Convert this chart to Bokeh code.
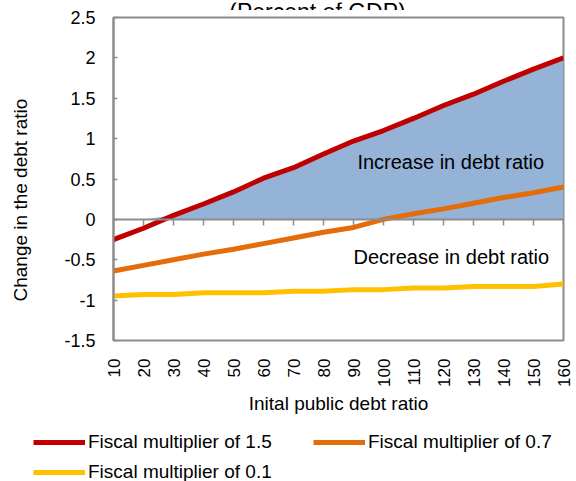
from math import pi
from bokeh.plotting import figure
from bokeh.layouts import column
from bokeh.models import (Label, Legend, LegendItem, FixedTicker, Span, ColumnDataSource, Range1d)
from bokeh.embed import file_html
from bokeh.resources import INLINE

# ---- data ----
debt_ratio = [10, 20, 30, 40, 50, 60, 70, 80, 90, 100, 110, 120, 130, 140, 150, 160]
mult_15 = [-0.25, -0.11, 0.05, 0.19, 0.34, 0.51, 0.64, 0.81, 0.97, 1.10, 1.25, 1.41, 1.55, 1.71, 1.86, 2.00]
mult_07 = [-0.64, -0.57, -0.50, -0.43, -0.37, -0.30, -0.23, -0.16, -0.10, 0.00, 0.07, 0.13, 0.20, 0.27, 0.33, 0.40]
mult_01 = [-0.95, -0.93, -0.93, -0.91, -0.91, -0.91, -0.89, -0.89, -0.87, -0.87, -0.85, -0.85, -0.83, -0.83, -0.83, -0.80]
y_ticks = [-1.5, -1.0, -0.5, 0.0, 0.5, 1.0, 1.5, 2.0, 2.5]
y_tick_labels = ["-1.5", "-1", "-0.5", "0", "0.5", "1", "1.5", "2", "2.5"]
series_names = ["Fiscal multiplier of 1.5", "Fiscal multiplier of 0.7", "Fiscal multiplier of 0.1"]
series_colors = ["#C00000", "#E46C0A", "#FFC000"]
series_values = [mult_15, mult_07, mult_01]

FONT = "Liberation Sans"
GRAY = "#8c8c8c"


def no_frame_align(fig):
    try:
        fig.frame_align = False
        return True
    except AttributeError:
        return False


# ---- top strip: subtitle, cut at the top edge as in the reference ----
t = figure(width=576, height=10, output_backend="svg", toolbar_location=None,
           x_axis_location=None, y_axis_location=None,
           x_range=Range1d(0, 576), y_range=Range1d(0, 10),
           min_border_left=0, min_border_right=0, min_border_top=0, min_border_bottom=0)
t.outline_line_color = None
t.grid.visible = False
t.border_fill_color = "white"
no_frame_align(t)
t.add_layout(Label(x=317, y=1, text="(Percent of GDP)", text_align="center",
                   text_baseline="alphabetic", text_font=FONT, text_font_size="23px",
                   text_color="black"))

# ---- main chart ----
src = ColumnDataSource(dict(
    x=debt_ratio,
    m15=mult_15,
    m07=mult_07,
    m01=mult_01,
    zero=[0.0] * len(debt_ratio),
    area=[max(v, 0.0) for v in mult_15],
    tick_end=[-0.075] * len(debt_ratio),
))

p = figure(width=576, height=420, output_backend="svg", toolbar_location=None,
           x_range=Range1d(10, 160), y_range=Range1d(-1.5, 2.5),
           min_border_left=113, min_border_right=13, min_border_top=7, min_border_bottom=90)
p.background_fill_color = "white"
p.border_fill_color = "white"
p.outline_line_color = GRAY
p.outline_line_width = 2
p.grid.visible = False

p.varea(x="x", y1="zero", y2="area", source=src, fill_color="#95B3D7", fill_alpha=1.0)

p.add_layout(Span(location=0, dimension="width", line_color=GRAY, line_width=2))
p.segment(x0="x", y0="zero", x1="x", y1="tick_end", source=src, line_color=GRAY, line_width=1.5)

p.line("x", "m01", source=src, line_color=series_colors[2], line_width=5)
p.line("x", "m07", source=src, line_color=series_colors[1], line_width=5)
p.line("x", "m15", source=src, line_color=series_colors[0], line_width=5)

yax = p.yaxis[0]
yax.ticker = FixedTicker(ticks=y_ticks)
yax.major_label_overrides = {t_: l for t_, l in zip(y_ticks, y_tick_labels)}
yax.axis_line_color = GRAY
yax.axis_line_width = 2
yax.major_tick_line_color = GRAY
yax.major_tick_line_width = 1.5
yax.major_tick_in = 4
yax.major_tick_out = 0
yax.minor_tick_line_color = None
yax.major_label_standoff = 18
yax.major_label_text_font = FONT
yax.major_label_text_font_size = "18px"
yax.major_label_text_color = "black"
yax.axis_label = "Change in the debt ratio" + "\u00a0" * 8
yax.axis_label_text_font = FONT
yax.axis_label_text_font_size = "19px"
yax.axis_label_text_font_style = "normal"
yax.axis_label_text_color = "black"
yax.axis_label_standoff = 30

xax = p.xaxis[0]
xax.ticker = FixedTicker(ticks=debt_ratio)
xax.axis_line_color = None
xax.major_tick_line_color = None
xax.major_tick_in = 0
xax.major_tick_out = 0
xax.minor_tick_line_color = None
xax.major_label_orientation = pi / 2
xax.major_label_standoff = 18
xax.major_label_text_font = FONT
xax.major_label_text_font_size = "17px"
xax.major_label_text_color = "black"
xax.axis_label = "Inital public debt ratio"
xax.axis_label_text_font = FONT
xax.axis_label_text_font_size = "19px"
xax.axis_label_text_font_style = "normal"
xax.axis_label_text_color = "black"
xax.axis_label_standoff = 3

p.add_layout(Label(x=91.3, y=0.71, text="Increase in debt ratio", text_align="left",
                   text_baseline="middle", text_font=FONT, text_font_size="20px", text_color="black"))
p.add_layout(Label(x=90, y=-0.46, text="Decrease in debt ratio", text_align="left",
                   text_baseline="middle", text_font=FONT, text_font_size="20px", text_color="black"))

# ---- legend strip below the chart (series lines fall outside its y range; only the legend shows) ----
q = figure(width=576, height=51, output_backend="svg", toolbar_location=None,
           x_axis_location=None, y_axis_location=None,
           x_range=Range1d(10, 160), y_range=Range1d(10, 11),
           min_border_left=0, min_border_right=0, min_border_top=0, min_border_bottom=0)
q.outline_line_color = None
q.grid.visible = False
q.border_fill_color = "white"
q.background_fill_color = "white"
if no_frame_align(q):
    leg_x = 33
else:
    q.min_border_left = 113
    q.min_border_right = 13
    leg_x = -80

items = []
for name, color, vals in zip(series_names, series_colors, series_values):
    rr = q.line(x=debt_ratio, y=vals, line_color=color, line_width=5)
    items.append(LegendItem(label=name, renderers=[rr]))
legend = Legend(items=items, location=(leg_x, -2), orientation="horizontal", ncols=2,
                glyph_width=52, glyph_height=20, label_height=20, label_width=217,
                label_standoff=3, spacing=8, padding=0, margin=0,
                border_line_color=None, background_fill_alpha=0,
                label_text_font=FONT, label_text_font_size="19px", label_text_color="black")
q.add_layout(legend, "center")

layout = column(t, p, q, spacing=0)
open("out.html", "w").write(file_html(layout, INLINE))
